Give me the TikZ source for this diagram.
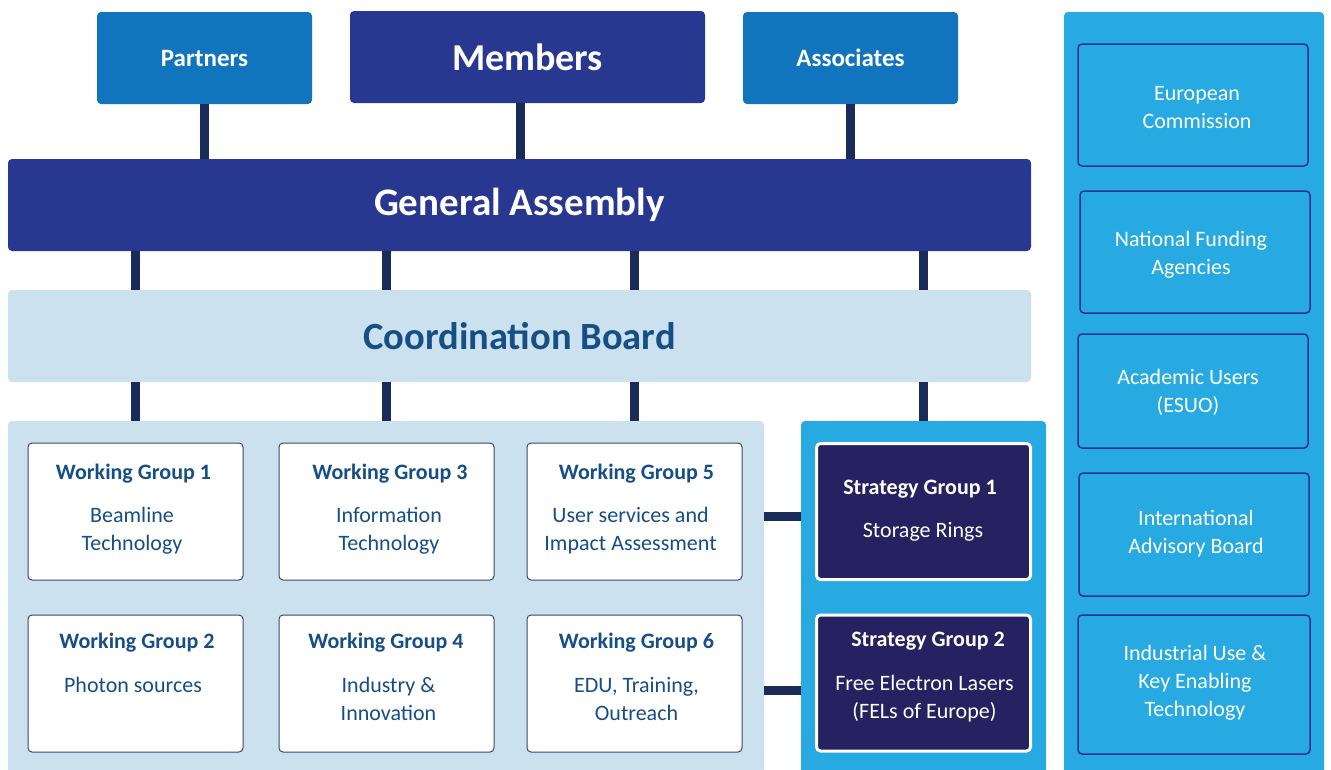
\documentclass[tikz,border=0pt]{standalone}
\usepackage{fontspec}
\setmainfont{Carlito}
\usetikzlibrary{calc}
\definecolor{partblue}{RGB}{16,117,188}
\definecolor{navy}{RGB}{40,56,145}
\definecolor{connc}{RGB}{27,43,89}
\definecolor{lightbg}{RGB}{204,225,238}
\definecolor{textblue}{RGB}{22,78,134}
\definecolor{sky}{RGB}{39,169,225}
\definecolor{sgfill}{RGB}{38,34,97}
\definecolor{rbord}{RGB}{46,49,146}
\definecolor{wgbord}{RGB}{58,70,110}
\begin{document}
\begin{tikzpicture}[x=1pt,y=-1pt,
  box/.style={rectangle, rounded corners=4pt, inner sep=0pt, outer sep=0pt},
  conn/.style={line width=9pt, draw=connc},
  topbox/.style={box, text=white, font=\bfseries\fontsize{25}{30}\selectfont},
  wgbox/.style={box, fill=white, draw=wgbord, line width=1pt, minimum width=215pt, minimum height=137pt},
  sgbox/.style={box, fill=sgfill, draw=white, line width=3pt, minimum width=214pt, minimum height=136pt},
  rbox/.style={box, draw=rbord, line width=1.5pt},
  rtext/.style={text=white, align=center, inner sep=0pt, font=\fontsize{22}{28}\selectfont},
  wgtitle/.style={text=textblue, font=\bfseries\fontsize{22}{28}\selectfont, inner sep=0pt},
  wgtext/.style={text=textblue, align=center, font=\fontsize{22}{28}\selectfont, inner sep=0pt},
  sgtitle/.style={text=white, font=\bfseries\fontsize{22}{28}\selectfont, inner sep=0pt},
  sgtext/.style={text=white, align=center, font=\fontsize{22}{28}\selectfont, inner sep=0pt}
]
\useasboundingbox (0,0) rectangle (1331,769);
\fill[white] (0,0) rectangle (1331,769);

% top row
\node[topbox, fill=partblue, minimum width=215pt, minimum height=92pt] (partners) at (204.5,58) {Partners};
\node[topbox, fill=navy, minimum width=355pt, minimum height=92pt, font=\bfseries\fontsize{38}{44}\selectfont] (members) at (527.5,57) {Members};
\node[topbox, fill=partblue, minimum width=215pt, minimum height=92pt] (associates) at (850.5,58) {Associates};

% assembly and board
\node[box, fill=navy, text=white, minimum width=1023pt, minimum height=92pt, font=\bfseries\fontsize{39}{44}\selectfont] (ga) at (519.5,205) {General Assembly};
\node[box, fill=lightbg, text=textblue, minimum width=1023pt, minimum height=92pt, font=\bfseries\fontsize{38.5}{44}\selectfont] (cb) at (519.5,336) {Coordination Board};

% panels
\node[box, fill=lightbg, minimum width=756pt, minimum height=369pt] (wgpanel) at (386,605.5) {};
\node[box, fill=sky, minimum width=245pt, minimum height=369pt] (sgpanel) at (923.5,605.5) {};
\node[box, fill=sky, minimum width=260pt, minimum height=778pt] (rpanel) at (1194,401) {};

% working groups
\node[wgbox] (wg1) at (135.5,511.5) {};
\node[wgbox] (wg3) at (386.5,511.5) {};
\node[wgbox] (wg5) at (634.5,511.5) {};
\node[wgbox] (wg2) at (135.5,683.5) {};
\node[wgbox] (wg4) at (386.5,683.5) {};
\node[wgbox] (wg6) at (634.5,683.5) {};

\node[wgtitle] (wg1t) at (133.5,474) {Working Group 1};
\node[wgtext] (wg1b) at (132,531) {Beamline\\Technology};
\node[wgtitle] (wg3t) at (390,474) {Working Group 3};
\node[wgtext] (wg3b) at (389,531) {Information\\Technology};
\node[wgtitle] (wg5t) at (636.5,474) {Working Group 5};
\node[wgtext] (wg5b) at (630.5,531) {User services and\\Impact Assessment};
\node[wgtitle] (wg2t) at (137,643) {Working Group 2};
\node[wgtext] (wg2b) at (133,685) {Photon sources};
\node[wgtitle] (wg4t) at (386,643) {Working Group 4};
\node[wgtext] (wg4b) at (388.5,699) {Industry \&\\Innovation};
\node[wgtitle] (wg6t) at (636.5,643) {Working Group 6};
\node[wgtext] (wg6b) at (636.5,699) {EDU, Training,\\Outreach};

% strategy groups
\node[sgbox] (sg1) at (923.5,511.5) {};
\node[sgbox] (sg2) at (923.5,683) {};
\node[sgtitle] (sg1t) at (920,489) {Strategy Group 1};
\node[sgtext] (sg1b) at (923,532) {Storage Rings};
\node[sgtitle] (sg2t) at (928,641) {Strategy Group 2};
\node[sgtext] (sg2b) at (924.5,699) {Free Electron Lasers\\(FELs of Europe)};

% right column
\node[rbox, minimum width=230pt, minimum height=122pt] (ec) at (1193,105) {};
\node[rbox, minimum width=230pt, minimum height=122pt] (nfa) at (1195,252) {};
\node[rbox, minimum width=230pt, minimum height=114pt] (au) at (1193,391) {};
\node[rbox, minimum width=230pt, minimum height=123pt] (iab) at (1194,534.5) {};
\node[rbox, minimum width=232pt, minimum height=139pt] (iu) at (1194,684.5) {};
\node[rtext] (ect) at (1197,108) {European\\Commission};
\node[rtext] (nfat) at (1191,255) {National Funding\\Agencies};
\node[rtext] (aut) at (1188,392) {Academic Users\\(ESUO)};
\node[rtext] (iabt) at (1196,534) {International\\Advisory Board};
\node[rtext] (iut) at (1195,683) {Industrial Use \&\\Key Enabling\\Technology};

% connectors
\draw[conn] (partners.south) -- (partners.south |- ga.north);
\draw[conn] ([xshift=-7.5pt]members.south) -- ([xshift=-7.5pt]members.south |- ga.north);
\draw[conn] (associates.south) -- (associates.south |- ga.north);

\draw[conn] (wg1.north |- ga.south) -- (wg1.north |- cb.north);
\draw[conn] (wg3.north |- ga.south) -- (wg3.north |- cb.north);
\draw[conn] (wg5.north |- ga.south) -- (wg5.north |- cb.north);
\draw[conn] (sg1.north |- ga.south) -- (sg1.north |- cb.north);

\draw[conn] (wg1.north |- cb.south) -- (wg1.north |- wgpanel.north);
\draw[conn] (wg3.north |- cb.south) -- (wg3.north |- wgpanel.north);
\draw[conn] (wg5.north |- cb.south) -- (wg5.north |- wgpanel.north);
\draw[conn] (sg1.north |- cb.south) -- (sg1.north |- sgpanel.north);

\draw[conn] ([yshift=-4.5pt]sg1.west -| wgpanel.east) -- ([yshift=-4.5pt]sg1.west -| sgpanel.west);
\draw[conn] ([yshift=-7pt]sg2.west -| wgpanel.east) -- ([yshift=-7pt]sg2.west -| sgpanel.west);
\end{tikzpicture}
\end{document}
